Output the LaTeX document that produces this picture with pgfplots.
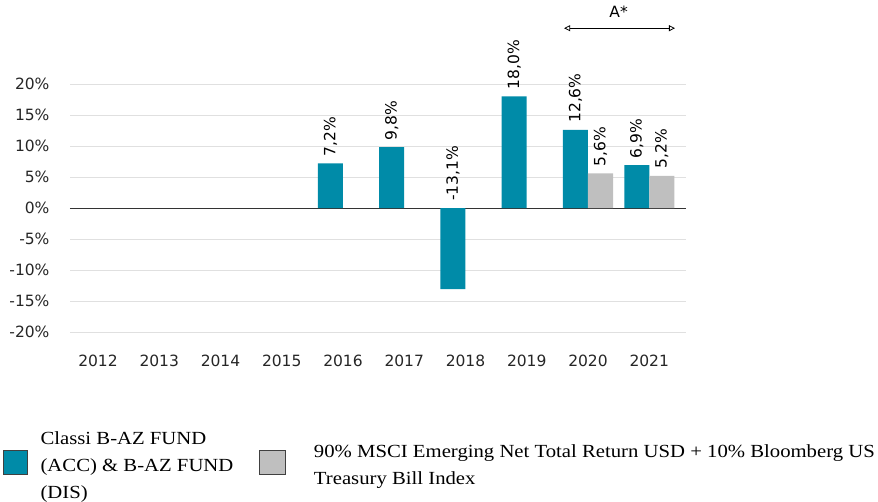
\documentclass[border=0pt]{standalone}
\usepackage{fontspec}
\setmainfont{Liberation Serif}
\newfontfamily\legfont[FakeStretch=1.12]{Liberation Serif}
\newfontfamily\dv{DejaVu Sans}
\usepackage{pgfplots}
\pgfplotsset{compat=1.18}
\usetikzlibrary{arrows.meta}
\definecolor{tealc}{RGB}{0,139,168}
\definecolor{greyc}{RGB}{191,191,191}
\definecolor{gridc}{RGB}{224,224,224}
\begin{document}
\begin{tikzpicture}
\useasboundingbox (-70pt,-169pt) rectangle (808pt,332pt);
\begin{axis}[
  at={(0,0)}, anchor=south west,
  scale only axis, width=616pt, height=248pt,
  xmin=-0.457, xmax=9.6, ymin=-20, ymax=20,
  clip=false,
  axis line style={draw=none},
  tick style={draw=none},
  xtick={0,...,9},
  xticklabels={2012,2013,2014,2015,2016,2017,2018,2019,2020,2021},
  ytick={-20,-15,...,20},
  yticklabel={\pgfmathprintnumber{\tick}\%},
  /pgf/number format/assume math mode=true,
  ticklabel style={font=\dv\fontsize{15.5}{17}\selectfont, text=black!85},
  yticklabel style={xshift=-17pt},
  xticklabel style={yshift=-19pt},
  ymajorgrids, grid style={gridc, line width=0.8pt},
  extra y ticks={0}, extra y tick labels={},
  extra y tick style={grid style={black!80, line width=1pt}},
  legend columns=2,
  legend style={at={(0,0)}, anchor=north west, xshift=-67pt, yshift=-99pt,
    draw=none, fill=none, inner sep=0pt, row sep=0pt,
    nodes={inner sep=0pt, anchor=base west},
    font=\legfont\fontsize{18.5}{27}\selectfont,
    /tikz/column 1/.style={column sep=13pt},
    /tikz/column 2/.style={column sep=18pt},
    /tikz/column 3/.style={column sep=29pt}},
]
\addplot[ybar, bar width=25pt, bar shift=-12.5pt, fill=tealc, draw=none,
  legend image code/.code={\draw[fill=tealc, draw=black!75] (0pt,-17pt) rectangle (24pt,7pt);}]
  coordinates {(4,7.2) (5,9.8) (6,-13.1) (7,18.0) (8,12.6) (9,6.9)};
\addlegendentry{\raisebox{13pt}{\parbox[t]{200pt}{Classi B-AZ FUND\newline (ACC) \& B-AZ FUND\newline (DIS)}}}
\addplot[ybar, bar width=25pt, bar shift=12.5pt, fill=greyc, draw=none,
  legend image code/.code={\draw[fill=greyc, draw=black!75] (0pt,-17pt) rectangle (26pt,7pt);}]
  coordinates {(8,5.6) (9,5.2)};
\addlegendentry{\parbox[t]{575pt}{90\% MSCI Emerging Net Total Return USD + 10\% Bloomberg US\newline Treasury Bill Index}}
% labels
\addplot[ybar, bar width=25pt, bar shift=-12.5pt, draw=none, fill=none, forget plot,
  point meta=explicit,
  nodes near coords={\pgfmathprintnumber[fixed,fixed zerofill,precision=1,use comma]{\pgfplotspointmeta}\%},
  every node near coord/.append style={xshift=-12.5pt, yshift=5pt, rotate=90, anchor=west, inner sep=2pt,
    font=\dv\fontsize{15.5}{17}\selectfont, text=black}]
  coordinates {(4,7.2) [7.2] (5,9.8) [9.8] (6,0) [-13.1] (7,18.0) [18.0] (8,12.6) [12.6] (9,6.9) [6.9]};
\addplot[ybar, bar width=25pt, bar shift=12.5pt, draw=none, fill=none, forget plot,
  point meta=explicit,
  nodes near coords={\pgfmathprintnumber[fixed,fixed zerofill,precision=1,use comma]{\pgfplotspointmeta}\%},
  every node near coord/.append style={xshift=12.5pt, yshift=5pt, rotate=90, anchor=west, inner sep=2pt,
    font=\dv\fontsize{15.5}{17}\selectfont, text=black}]
  coordinates {(8,5.6) [5.6] (9,5.2) [5.2]};
\draw[{Triangle[open,length=6pt,width=6pt]}-{Triangle[open,length=6pt,width=6pt]}, line width=0.8pt]
  (axis cs:7.61,29) -- (axis cs:9.42,29);
\node[font=\dv\fontsize{15.5}{17}\selectfont] at (axis cs:8.5,31.6) {A*};
\end{axis}
\end{tikzpicture}
\end{document}
